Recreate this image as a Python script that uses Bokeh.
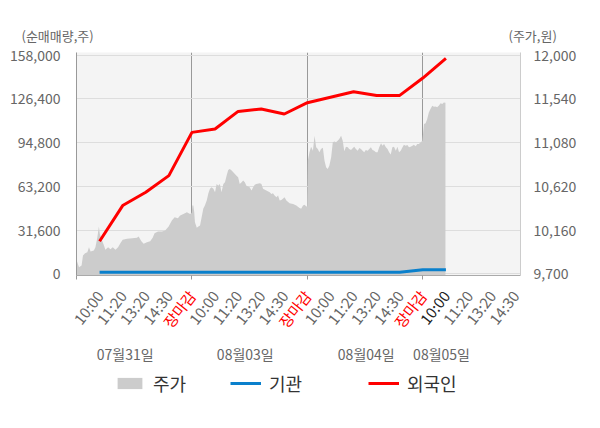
from bokeh.plotting import figure
from bokeh.layouts import column
from bokeh.models import (Range1d, LinearAxis, FixedTicker, NumeralTickFormatter,
                          Legend, LegendItem)
from bokeh.core.properties import value
from bokeh.embed import file_html
from bokeh.resources import INLINE

FONT = "Noto Sans CJK KR"

# ---------------- data ----------------
day_dates = ["07월31일", "08월03일", "08월04일", "08월05일"]
date_label_slot = [2.11, 7.31, 12.55, 15.81]
session_ticks = ["10:00", "11:20", "13:20", "14:30", "장마감"]
tick_slots = list(range(1, 20))
tick_labels = session_ticks * 3 + session_ticks[:4]
day_bounds = [0, 5, 10, 15]

left_ticks = [0, 31600, 63200, 94800, 126400, 158000]
right_ticks = [9700, 10160, 10620, 11080, 11540, 12000]

flow_slot = list(range(1, 17))
foreign_net = [23520, 49280, 58870, 70920, 102160, 104610, 117310, 119040,
               115430, 123590, 127550, 131520, 128850, 128850, 141400, 155550]
inst_net = [1100, 1100, 1100, 1100, 1100, 1100, 1100, 1100,
            1100, 1100, 1100, 1100, 1100, 1100, 2900, 2900]

day1_slot = [0.0, 0.11, 0.22, 0.28, 0.37, 0.47, 0.54, 0.61, 0.75, 0.82, 0.90, 0.97,
             1.01, 1.08, 1.19, 1.25, 1.37, 1.47, 1.57, 1.69, 1.80, 1.90, 2.00, 2.19,
             2.41, 2.62, 2.69, 2.81, 2.91, 3.05, 3.19, 3.30, 3.38, 3.53, 3.70, 3.84,
             3.99, 4.13, 4.25, 4.39, 4.49, 4.63, 4.78, 4.92, 4.99]
day1_price = [9847, 9769, 9787, 9892, 9916, 9927, 9979, 9934, 9945, 9979, 10078, 10197,
              10120, 10068, 9997, 9952, 9979, 9958, 9979, 9952, 9979, 10021, 10057, 10068,
              10074, 10078, 10092, 10042, 10015, 10032, 10042, 10078, 10126, 10144, 10144, 10155,
              10197, 10260, 10294, 10284, 10312, 10330, 10347, 10330, 10340]

day2_slot = [5.02, 5.06, 5.10, 5.13, 5.21, 5.28, 5.35, 5.42, 5.49, 5.56, 5.64, 5.71,
             5.78, 5.85, 5.93, 6.00, 6.07, 6.14, 6.21, 6.28, 6.36, 6.43, 6.50, 6.57,
             6.64, 6.72, 6.79, 6.86, 6.93, 7.00, 7.07, 7.15, 7.22, 7.29, 7.36, 7.50,
             7.58, 7.65, 7.72, 7.79, 7.94, 8.01, 8.08, 8.22, 8.37, 8.44, 8.51, 8.58,
             8.66, 8.73, 8.80, 8.87, 8.94, 9.01, 9.09, 9.23, 9.38, 9.52, 9.66, 9.73,
             9.81, 9.88, 9.95, 9.99]
day2_price = [10417, 10417, 10344, 10242, 10183, 10197, 10207, 10294, 10383, 10417, 10470, 10543,
              10593, 10609, 10593, 10557, 10645, 10627, 10645, 10557, 10645, 10662, 10732, 10792,
              10803, 10785, 10767, 10750, 10732, 10714, 10645, 10662, 10680, 10662, 10627, 10609,
              10575, 10609, 10635, 10645, 10651, 10645, 10593, 10575, 10557, 10540, 10546, 10522,
              10504, 10522, 10470, 10477, 10488, 10504, 10470, 10441, 10435, 10417, 10393, 10383,
              10417, 10425, 10407, 10410]

day3_slot = [10.02, 10.09, 10.16, 10.24, 10.31, 10.38, 10.45, 10.52, 10.59, 10.67, 10.74, 10.81,
             10.88, 10.95, 11.03, 11.10, 11.17, 11.24, 11.31, 11.38, 11.46, 11.53, 11.60, 11.67,
             11.75, 11.81, 11.89, 11.96, 12.03, 12.10, 12.18, 12.25, 12.32, 12.39, 12.46, 12.53,
             12.61, 12.68, 12.75, 12.82, 12.89, 12.97, 13.04, 13.11, 13.19, 13.25, 13.32, 13.40,
             13.47, 13.54, 13.61, 13.68, 13.75, 13.83, 13.90, 13.97, 14.04, 14.12, 14.18, 14.26,
             14.33, 14.40, 14.47, 14.55, 14.61, 14.69, 14.76, 14.83, 14.91, 14.98]
day3_price = [10890, 10977, 11037, 10995, 11152, 11030, 11013, 10977, 11013, 11026, 10890, 10820,
              10803, 10837, 10925, 11082, 11090, 11082, 11100, 11118, 11152, 11100, 10988, 11037,
              11030, 11013, 11002, 11019, 11037, 11013, 10995, 11023, 11013, 10995, 10977, 11002,
              10995, 11013, 11030, 11002, 10995, 10977, 10977, 11030, 11072, 11047, 11065, 11030,
              11013, 10977, 10953, 11030, 11037, 10995, 11037, 10977, 10995, 11030, 11058, 11047,
              11055, 11030, 11037, 11047, 11058, 11040, 11065, 11065, 11082, 11100]

day4_slot = [15.05, 15.12, 15.19, 15.26, 15.33, 15.41, 15.48, 15.55, 15.62, 15.69, 15.77,
             15.84, 15.91, 15.98]
day4_price = [11275, 11282, 11328, 11397, 11433, 11467, 11457, 11460, 11450, 11467, 11492,
              11485, 11502, 11499]

price_slot = day1_slot + day2_slot + day3_slot + day4_slot
price_won = day1_price + day2_price + day3_price + day4_price

# ---------------- layout constants ----------------
W = 600
TOP_H = 46
MAIN_BT, MAIN_BB = 6, 8
FRAME_H = 223
MAIN_H = MAIN_BT + FRAME_H + MAIN_BB
BOT_H = 428 - TOP_H - MAIN_H
FL, FR = 76, 80
X0, X1 = 0.0, 19.23
PPX = (W - FL - FR) / (X1 - X0)
PRICE_LO, PRICE_HI = 9682.1, 12026.7

GRAY_TXT = "#666666"
BLUE = "#0a80cc"
RED = "#ff0000"
AREA = "#cccccc"

def bare(fig):
    fig.outline_line_color = None
    fig.grid.visible = False
    fig.background_fill_color = "white"
    fig.border_fill_color = "white"
    return fig

# ---------------- top strip: unit captions ----------------
p_top = bare(figure(width=W, height=TOP_H, output_backend="svg", toolbar_location=None,
                    x_range=Range1d(0, W), y_range=Range1d(TOP_H, 0),
                    x_axis_location=None, y_axis_location=None, min_border=0,
                    frame_align=False))
p_top.text(x=[21, 508], y=[35, 35], text=["(순매매량,주)", "(주가,원)"],
           text_font=value(FONT), text_font_size="13px", text_color=GRAY_TXT,
           text_align="left", text_baseline="middle")

# ---------------- main plot ----------------
p = figure(width=W, height=MAIN_H, output_backend="svg", toolbar_location=None,
           x_range=Range1d(X0, X1), y_range=Range1d(-1228, 159845),
           min_border_left=FL, min_border_right=FR, min_border_top=MAIN_BT,
           min_border_bottom=MAIN_BB, frame_align=False)
p.extra_y_ranges = {"price": Range1d(PRICE_LO, PRICE_HI)}
p.background_fill_color = "#f4f4f4"
p.border_fill_color = "white"
p.outline_line_color = None

p.varea(x=price_slot, y1=PRICE_LO, y2=price_won, y_range_name="price", fill_color=AREA)
p.line(x=flow_slot, y=inst_net, line_color=BLUE, line_width=3)
p.line(x=flow_slot, y=foreign_net, line_color=RED, line_width=3)

xa = p.xaxis[0]
xa.ticker = FixedTicker(ticks=[], minor_ticks=day_bounds)
xa.major_tick_out = 0
xa.major_tick_in = 0
xa.major_label_standoff = 0
xa.minor_tick_out = 4
xa.minor_tick_in = 0
xa.minor_tick_line_color = "#999999"
xa.axis_line_color = "#aaaaaa"

p.xgrid.ticker = FixedTicker(ticks=day_bounds[1:])
p.xgrid.grid_line_color = "#999999"

ya = p.yaxis[0]
ya.ticker = FixedTicker(ticks=left_ticks)
ya.formatter = NumeralTickFormatter(format="0,0")
ya.axis_line_color = "#999999"
ya.major_tick_line_color = None
ya.minor_tick_line_color = None
ya.major_label_text_font = FONT
ya.major_label_text_font_size = "14px"
ya.major_label_text_color = GRAY_TXT
ya.major_label_standoff = 10

p.ygrid.ticker = FixedTicker(ticks=left_ticks)
p.ygrid.grid_line_color = "#dddddd"

ra = LinearAxis(y_range_name="price", ticker=FixedTicker(ticks=right_ticks),
                formatter=NumeralTickFormatter(format="0,0"))
ra.axis_line_color = "#cccccc"
ra.major_tick_line_color = None
ra.minor_tick_line_color = None
ra.major_label_text_font = FONT
ra.major_label_text_font_size = "14px"
ra.major_label_text_color = GRAY_TXT
ra.major_label_standoff = 7
p.add_layout(ra, "right")

# ---------------- bottom strip: session labels, dates, legend ----------------
p_bot = bare(figure(width=W, height=BOT_H, output_backend="svg", toolbar_location=None,
                    x_range=Range1d(X0 - FL / PPX, X1 + FR / PPX),
                    y_range=Range1d(BOT_H, 0),
                    x_axis_location=None, y_axis_location=None, min_border=0,
                    frame_align=False))

tick_colors = []
for s, lab in zip(tick_slots, tick_labels):
    if lab == "장마감":
        tick_colors.append(RED)
    elif s == 16:
        tick_colors.append("#222222")
    else:
        tick_colors.append(GRAY_TXT)

p_bot.text(x=tick_slots, y=[9] * len(tick_slots), text=tick_labels, angle=52,
           angle_units="deg", text_align="right", text_baseline="middle",
           text_font=value(FONT), text_font_size="15px", text_color=tick_colors)

p_bot.text(x=date_label_slot, y=[70] * len(date_label_slot), text=day_dates,
           text_align="center", text_baseline="middle", text_font=value(FONT),
           text_font_size="14px", text_color=GRAY_TXT)

# legend keys: the same series, which fall outside this strip's range
k_area = p_bot.varea(x=price_slot, y1=PRICE_LO, y2=price_won, fill_color=AREA)
k_blue = p_bot.line(x=flow_slot, y=inst_net, line_color=BLUE, line_width=3)
k_red = p_bot.line(x=flow_slot, y=foreign_net, line_color=RED, line_width=3)

legend_specs = [("주가", k_area, 114), ("기관", k_blue, 230), ("외국인", k_red, 368)]
for lab, r, lx in legend_specs:
    lg = Legend(items=[LegendItem(label=lab, renderers=[r])], location=(lx, 31.7),
                orientation="horizontal", glyph_width=31, glyph_height=14,
                label_standoff=8, label_text_font=FONT, label_text_font_size="18px",
                label_text_color="#333333", padding=0, margin=0, spacing=0,
                border_line_color=None, background_fill_alpha=0)
    p_bot.add_layout(lg)

layout = column(p_top, p, p_bot, spacing=0)
open("out.html", "w").write(file_html(layout, INLINE))
